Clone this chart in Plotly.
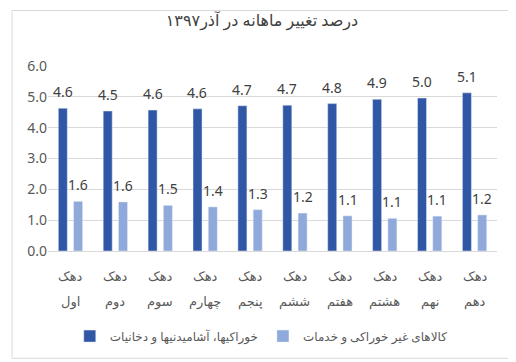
import plotly.graph_objects as go

deciles = ["اول", "دوم", "سوم", "چهارم", "پنجم", "ششم", "هفتم", "هشتم", "نهم", "دهم"]
prefix = "دهک"
food = [4.63, 4.54, 4.57, 4.61, 4.71, 4.73, 4.78, 4.92, 4.96, 5.13]
nonfood = [1.61, 1.59, 1.48, 1.43, 1.34, 1.23, 1.14, 1.06, 1.13, 1.17]
series_names = ["خوراکیها، آشامیدنیها و دخانیات", "کالاهای غیر خوراکی و خدمات"]
title_text = "درصد تغییر ماهانه در آذر۱۳۹۷"
yticks = [0, 1, 2, 3, 4, 5, 6]

font_family = "Noto Sans, DejaVu Sans, sans-serif"
colors = ["#2F57A5", "#8FA9DA"]

fig = go.Figure()
for vals, name, col in zip([food, nonfood], series_names, colors):
    fig.add_trace(go.Bar(x=deciles, y=vals, name=name, marker_color=col))

annotations = []
# value labels above bars
for vals, xs in zip([food, nonfood], [-7.7, 7.7]):
    for d, v in zip(deciles, vals):
        annotations.append(dict(x=d, y=v, xref="x", yref="y", text=f"{v:.1f}", showarrow=False,
                                xshift=xs, yshift=5, yanchor="bottom",
                                font=dict(size=14, color="#404040")))
# two-line category labels
for d in deciles:
    annotations.append(dict(x=d, y=0, xref="x", yref="paper", text=prefix, showarrow=False,
                            yshift=-25, yanchor="middle", font=dict(size=13, color="#595959")))
    annotations.append(dict(x=d, y=0, xref="x", yref="paper", text=d, showarrow=False,
                            yshift=-50, yanchor="middle", font=dict(size=13, color="#595959")))

fig.update_layout(
    width=508, height=354,
    margin=dict(l=40, r=19, t=58, b=111, autoexpand=False),
    paper_bgcolor="white", plot_bgcolor="white",
    font=dict(family=font_family, color="#595959"),
    title=dict(text=title_text, x=0.5, xanchor="center", y=0.966, yanchor="middle",
               font=dict(size=16, color="#404040")),
    barmode="group", bargap=0.32, bargroupgap=0.41,
    showlegend=True,
    legend=dict(orientation="h", x=0.475, xanchor="center", y=-0.46, yanchor="middle",
                font=dict(size=12, color="#595959"), traceorder="normal", itemwidth=30),
    xaxis=dict(showgrid=False, showline=False, ticks="", showticklabels=False, automargin=False),
    yaxis=dict(range=[0, 6], tickvals=yticks, tickformat=".1f", showgrid=True,
               gridcolor="#D9D9D9", gridwidth=1, zeroline=True, zerolinecolor="#D9D9D9",
               zerolinewidth=1, automargin=False,
               tickfont=dict(size=14, color="#595959"), ticks="", showline=False),
    annotations=annotations,
    shapes=[dict(type="rect", xref="paper", yref="paper", x0=-0.08, x1=1.035, y0=-0.58, y1=1.3,
                 line=dict(color="#D9D9D9", width=1), fillcolor="rgba(0,0,0,0)", layer="above")],
)

fig.write_html("out.html")
